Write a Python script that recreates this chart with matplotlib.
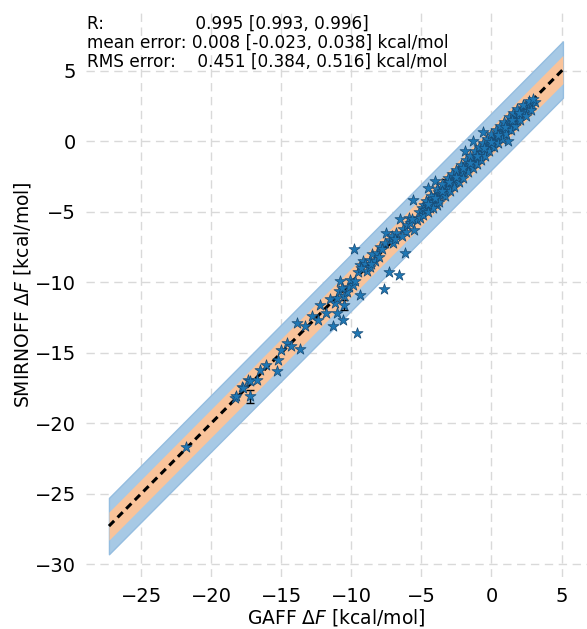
import matplotlib.pyplot as plt
import numpy as np

# GAFF vs SMIRNOFF free energies (kcal/mol)
gaff = [
    # sparse low end
    -21.8, -18.3, -18.2, -17.8, -17.75, -17.4, -17.25, -17.25, -16.7, -16.5, -16.1,
    -15.3, -15.25, -15.0, -14.6, -14.3, -13.9, -13.7, -13.3, -12.8,
    # middle
    -12.25, -12.4, -11.8, -11.5, -11.3, -11.2, -11.05, -11.05, -10.9, -10.8, -10.6,
    -10.5, -10.5, -10.3, -10.2, -10.1, -9.9, -9.8, -9.75, -9.6, -9.5, -9.4, -9.4,
    -9.2, -9.0, -8.9, -8.7, -8.7, -8.5, -8.3, -8.2, -8.0, -7.96, -7.7, -7.6, -7.5,
    -7.3, -7.25, -7.1, -7.0, -6.8, -6.6, -6.5, -6.3, -6.2, -6.1, -6.0, -5.9, -5.8,
    -5.6, -5.5, -5.3, -10.7, -9.3, -8.6, -7.8, -6.9, -6.4, -5.7,
    # dense upper cluster
    -5.2, -5.1, -4.95, -4.9, -4.8, -4.75, -4.6, -4.55, -4.45, -4.4, -4.3, -4.25,
    -4.15, -4.05, -4.0, -3.95, -3.9, -3.85, -3.8, -3.7, -3.6, -3.55, -3.45, -3.4,
    -3.3, -3.2, -3.15, -3.05, -3.0, -2.9, -2.85, -2.75, -2.7, -2.6, -2.55, -2.45,
    -2.4, -2.3, -2.25, -2.15, -2.1, -2.0, -1.95, -1.9, -1.85, -1.75, -1.7, -1.6,
    -1.55, -1.45, -1.4, -1.3, -1.25, -1.15, -1.1, -1.0, -0.95, -0.85, -0.8, -0.7,
    -0.65, -0.55, -0.5, -0.4, -0.35, -0.25, -0.2, -0.1, -0.05, 0.05, 0.1, 0.2,
    0.25, 0.35, 0.4, 0.5, 0.55, 0.65, 0.7, 0.8, 0.85, 0.95, 1.0, 1.1, 1.2, 1.2,
    1.3, 1.35, 1.45, 1.5, 1.6, 1.65, 1.75, 1.8, 1.9, 2.0, 2.1, 2.2, 2.3, 2.4,
    2.5, 2.6, 2.75, 2.9, 3.1,
    -4.7, -4.5, -4.35, -4.2, -3.9, -3.75, -3.5, -3.35, -3.1, -2.95, -2.8, -2.65,
    -2.5, -2.35, -2.2, -2.05, -1.8, -1.65, -1.5, -1.35, -1.2, -1.05, -0.9, -0.75,
    -0.6, -0.45, -0.3, -0.15, 0.0, 0.15, 0.3, 0.45, 0.6, 0.75, 0.9, 1.05, 1.25,
    1.4, 1.55, 1.7, 1.85, 2.05, 2.25, 2.45, 2.65, 2.8, 3.0, -4.0, -3.0, -2.0,
    -1.0, 0.0, 1.0, 2.0, -1.5, -0.5, 0.5, 1.5, -2.5, -3.5, -4.5, -1.3, -0.6, -4.5,
]
smirnoff = [
    -21.7, -18.2, -18.1, -17.4, -17.5, -16.9, -18.1, -17.0, -16.9, -16.2, -15.85,
    -16.3, -15.5, -14.8, -14.3, -14.5, -12.9, -14.7, -13.1, -12.4,
    -11.6, -12.7, -12.2, -11.2, -13.1, -11.5, -12.2, -11.1, -10.6, -9.9, -12.7,
    -11.0, -11.6, -10.7, -10.3, -9.8, -10.2, -7.65, -9.9, -13.6, -9.3, -8.8, -10.9,
    -8.5, -8.7, -9.2, -8.9, -8.4, -8.0, -8.5, -7.9, -8.2, -7.46, -10.5, -7.2, -6.5,
    -9.3, -7.0, -6.7, -7.2, -6.5, -9.5, -5.5, -6.2, -7.9, -6.4, -5.9, -5.4, -5.8,
    -4.15, -6.3, -5.6, -10.4, -9.0, -8.7, -7.6, -6.9, -6.7, -5.5,
    -5.0, -5.4, -4.7, -5.2, -4.5, -4.9, -4.8, -4.3, -4.6, -4.7, -4.1, -4.5,
    -4.3, -3.8, -2.8, -4.2, -4.5, -3.6, -4.0, -3.7, -3.3, -3.8, -3.5, -3.1,
    -3.6, -3.0, -3.3, -2.8, -3.2, -2.9, -2.6, -3.0, -2.5, -2.8, -2.4, -2.7,
    -2.2, -2.5, -2.1, -2.4, -1.9, -2.2, -1.8, -0.65, -2.0, -1.6, -1.9, -1.5,
    -1.7, -1.3, -1.6, -1.2, -1.4, -1.0, -1.3, -0.9, -1.1, -0.7, -1.0, -0.6,
    -0.85, -0.4, -0.7, -0.3, -0.55, -0.15, -0.4, 0.0, -0.3, 0.2, -0.1, 0.3,
    0.05, 0.45, 0.15, 0.6, 0.3, 0.75, 0.45, 0.9, 0.6, 1.0, 0.75, 1.2, 0.06, 0.9,
    1.35, 1.05, 1.5, 1.2, 1.7, 1.4, 1.8, 1.55, 2.0, 1.75, 2.15, 1.95, 2.35, 2.1,
    2.55, 2.3, 2.7, 2.6, 2.8,
    -4.2, -5.0, -3.9, -4.7, -3.4, -4.3, -3.0, -3.9, -2.6, -3.5, -2.3, -3.2,
    -2.0, -2.9, -1.7, -2.6, -1.3, -2.2, -1.0, -1.9, -0.7, -1.6, -0.4, -1.3,
    -0.1, -1.0, 0.2, -0.7, 0.5, -0.4, 0.8, -0.1, 1.1, 0.2, 1.4, 0.5, 1.7,
    0.8, 2.0, 1.1, 2.3, 1.5, 2.6, 1.8, 2.9, 2.2, 3.0, -4.0, -2.9, -1.9,
    -1.05, -0.05, 1.0, 2.05, -1.5, -0.5, 0.45, 1.55, -2.5, -3.55, -4.45, 0.0, 0.7, -3.3,
]

# points whose error bars show
err_x = [-17.25, -10.5, -0.8, -3.3]
err_y = [-18.1, -11.6, -1.0, -3.0]
err_dy = [0.45, 0.35, 0.3, 0.3]

stats_text = ("R:                 0.995 [0.993, 0.996]\n"
              "mean error: 0.008 [-0.023, 0.038] kcal/mol\n"
              "RMS error:    0.451 [0.384, 0.516] kcal/mol")

line_lo, line_hi = -27.3, 5.1

fig = plt.figure(figsize=(5.87, 6.29), dpi=100)
ax = fig.add_axes([0.146, 0.083, 0.854, 0.896])

# identity line with 1 and 2 kcal/mol bands
xs = np.array([line_lo, line_hi])
ax.fill_between(xs, xs - 2, xs + 2, color='#a7c9e5', edgecolor='#94bde0', lw=1, zorder=1)
ax.fill_between(xs, xs - 1, xs + 1, color='#f9c39a', lw=0, zorder=2)
ax.plot(xs, xs, color='black', ls=(0, (2.4, 1.6)), lw=2.2, zorder=3)

ax.errorbar(err_x, err_y, yerr=err_dy, fmt='none', ecolor='black', elinewidth=1,
            capsize=3, zorder=4)
ax.scatter(gaff, smirnoff, marker='*', s=70, color='#1f77b4', edgecolor='#174a74',
           linewidth=0.5, zorder=5)

ax.text(0.003, 0.998, stats_text, transform=ax.transAxes, ha='left', va='top',
        fontsize=12.2, linespacing=1.1)

ax.set_xlim(-28.96, 6.82)
ax.set_ylim(-30.9, 9.1)
ax.set_xticks([-25, -20, -15, -10, -5, 0, 5])
ax.set_yticks([-30, -25, -20, -15, -10, -5, 0, 5])
ax.tick_params(length=0, labelsize=14, pad=7)
for s in ax.spines.values():
    s.set_visible(False)
ax.grid(True, ls=(0, (6, 4)), color='#d9d9d9', lw=1)
ax.set_axisbelow(True)
ax.set_xlabel(r'GAFF $\Delta F$ [kcal/mol]', fontsize=13.5, labelpad=1)
ax.set_ylabel(r'SMIRNOFF $\Delta F$ [kcal/mol]', fontsize=13.5, labelpad=1)

fig.savefig('out.png', dpi=100)
